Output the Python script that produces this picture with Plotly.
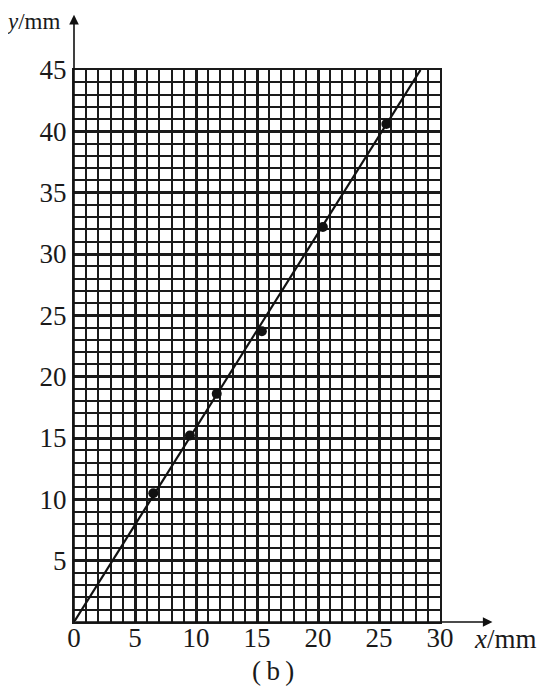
import plotly.graph_objects as go

# measured points (mm)
x_pts = [6.5, 9.5, 11.7, 15.4, 20.4, 25.6]
y_pts = [10.5, 15.2, 18.6, 23.7, 32.2, 40.6]

# fitted straight line through the origin
line_x = [0, 28.4]
line_y = [0, 45]

x_range = [0, 30]
y_range = [0, 45]
major_step = 5
minor_step = 1

serif = "Liberation Serif, Times New Roman, serif"
ink = '#1a1a1a'

fig = go.Figure()

# empty trace that carries the 1 mm graph-paper axes
fig.add_trace(go.Scatter(x=[], y=[], xaxis='x2', yaxis='y2', hoverinfo='skip'))

fig.add_trace(go.Scatter(
    x=line_x, y=line_y, mode='lines',
    line=dict(color='#111111', width=2.2),
    hoverinfo='skip', cliponaxis=False
))

fig.add_trace(go.Scatter(
    x=x_pts, y=y_pts, mode='markers',
    marker=dict(color='#111111', size=10),
    cliponaxis=False
))

main = dict(
    tickmode='linear', tick0=0, dtick=major_step,
    showgrid=True, gridcolor=ink, gridwidth=2.9,
    showline=True, linecolor=ink, linewidth=2, mirror=True,
    zeroline=False, ticks='',
    tickfont=dict(family=serif, size=27, color=ink),
)
fine = dict(
    tickmode='linear', tick0=0, dtick=minor_step,
    showgrid=True, gridcolor=ink, gridwidth=1.6,
    showticklabels=False, showline=False, zeroline=False, ticks='',
)

fig.update_layout(
    xaxis=dict(range=x_range, ticklabelstandoff=-9, **main),
    # the single "0" at the origin belongs to the x axis
    yaxis=dict(range=y_range, ticklabelstandoff=0, labelalias={0: ' '}, **main),
    xaxis2=dict(range=x_range, overlaying='x', **fine),
    yaxis2=dict(range=y_range, overlaying='y', **fine),
)

# axis arrows
fig.add_annotation(x=0, y=49.5, ax=0, ay=0, xref='x', yref='y', axref='x', ayref='y',
                   text='', showarrow=True, arrowhead=2, arrowsize=1.2, arrowwidth=1.6,
                   arrowcolor='#111111', standoff=0, startstandoff=0)
fig.add_annotation(x=34.3, y=0, ax=0, ay=0, xref='x', yref='y', axref='x', ayref='y',
                   text='', showarrow=True, arrowhead=2, arrowsize=1.2, arrowwidth=1.6,
                   arrowcolor='#111111', standoff=0, startstandoff=0)

fig.add_annotation(x=-0.033, y=1.087, xref='paper', yref='paper', xanchor='right', yanchor='middle',
                   text='<i>y</i>/mm', showarrow=False,
                   font=dict(family=serif, size=23, color=ink))
fig.add_annotation(x=1.087, y=-0.031, xref='paper', yref='paper', xanchor='left', yanchor='middle',
                   text='<i>x</i>/mm', showarrow=False,
                   font=dict(family=serif, size=27, color=ink))
fig.add_annotation(x=0.544, y=-0.089, xref='paper', yref='paper', xanchor='center', yanchor='middle',
                   text='(\u2009b\u2009)', showarrow=False,
                   font=dict(family=serif, size=27, color=ink))

# page body keeps its default 8px margin, so the figure is 8px smaller
fig.update_layout(
    width=537, height=685,
    margin=dict(l=66, r=105, t=62, b=71),
    paper_bgcolor='white', plot_bgcolor='white',
    showlegend=False,
)

fig.write_html("out.html", config={'displayModeBar': False})
